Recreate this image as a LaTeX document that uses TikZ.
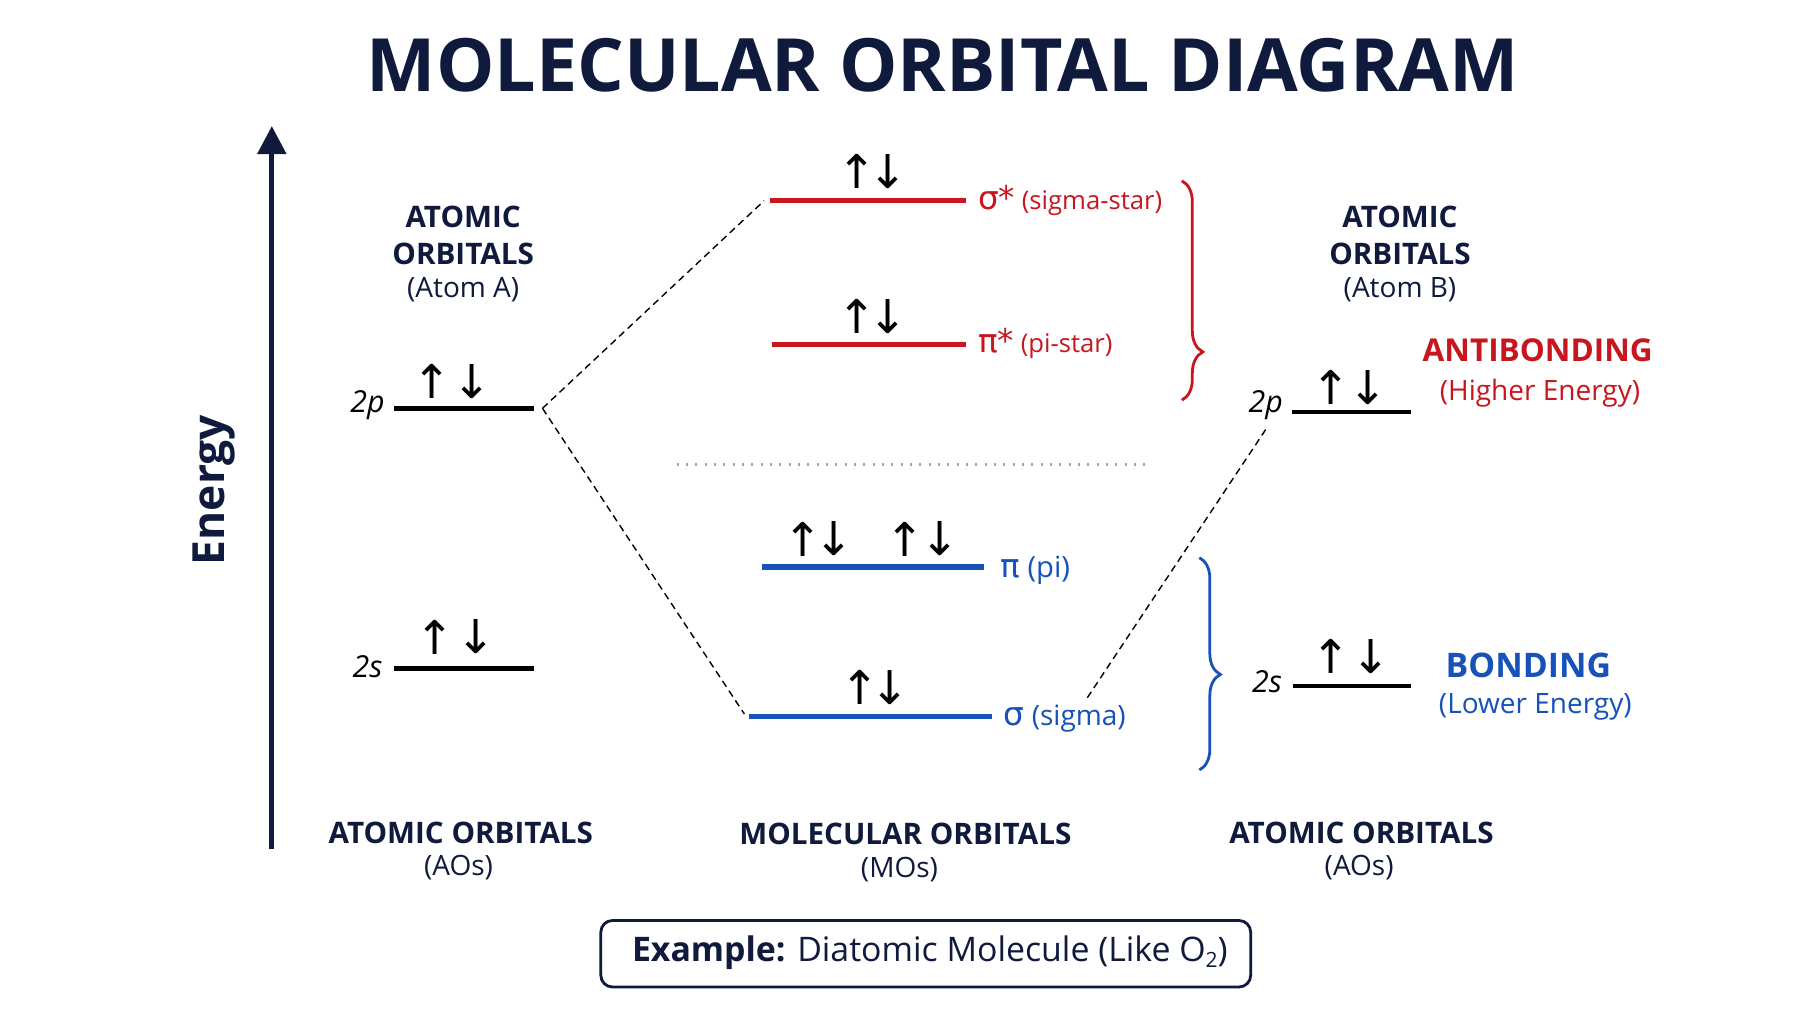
\documentclass[tikz,border=0pt]{standalone}
\usepackage{fontspec}
\setmainfont{Open Sans}
\newfontfamily\dv{DejaVu Sans}
\usetikzlibrary{arrows.meta,decorations.pathreplacing}
\definecolor{navy}{HTML}{0F1A3C}
\definecolor{mred}{HTML}{C8161E}
\definecolor{mblue}{HTML}{1652B8}
\begin{document}
\begin{tikzpicture}[x=0.5pt,y=-0.5pt,
  lev/.style={line width=2pt},
  hd/.style={font=\fontsize{12.7}{14}\selectfont\bfseries,text=navy,inner sep=0},
  sub/.style={font=\fontsize{12}{13}\selectfont,text=navy,inner sep=0},
  el/.style={font=\dv\fontsize{20}{20}\selectfont,inner sep=0},
  ol/.style={font=\fontsize{13}{14}\selectfont\itshape,inner sep=0},
  dsh/.style={line width=0.6pt,dash pattern=on 3pt off 2pt}]
\fill[white] (0,0) rectangle (1560,878);
\useasboundingbox (0,0) rectangle (1560,878);
\node[font=\fontsize{31.5}{34}\selectfont\bfseries,text=navy] (title) at (808,56) {MOLECULAR ORBITAL DIAGRAM};
% energy axis
\coordinate (ax0) at (233,728); \coordinate (ax1) at (233,108);
\draw[navy,line width=2.2pt,-{Triangle[length=12pt,width=12pt]}] (ax0) -- (ax1);
\node[rotate=90,font=\fontsize{19}{20}\selectfont\bfseries,text=navy] (en) at (183,420) {Energy};
% headers
\node[hd] (la1) at (397,186) {ATOMIC};
\node[hd] (la2) at (397,218) {ORBITALS};
\node[sub] (la3) at (397,248) {(Atom A)};
\node[hd] (ra1) at (1200,186) {ATOMIC};
\node[hd] (ra2) at (1200,218) {ORBITALS};
\node[sub] (ra3) at (1200,248) {(Atom B)};
% left levels
\draw[lev] (338,350) coordinate (l2pa) -- (458,350) coordinate (l2pb);
\node[ol] (l2p) at (315,347) {2p};
\node[el] at (370,327) {↑}; \node[el] at (405,327) {↓};
\draw[lev] (338,573) coordinate (l2sa) -- (458,573) coordinate (l2sb);
\node[ol] (l2s) at (315,571) {2s};
\node[el] at (373,546) {↑}; \node[el] at (408,546) {↓};
% right levels
\draw[lev] (1107,353) coordinate (r2pa) -- (1209,353) coordinate (r2pb);
\node[ol] (r2p) at (1085,347) {2p};
\node[el] at (1141,332) {↑}; \node[el] at (1173,332) {↓};
\draw[lev] (1108,588) coordinate (r2sa) -- (1209,588) coordinate (r2sb);
\node[ol] (r2s) at (1086,584) {2s};
\node[el] at (1141,563) {↑}; \node[el] at (1175,563) {↓};
% MOs
\draw[lev,mred,line width=2.2pt] (660,172) coordinate (ssa) -- (828,172) coordinate (ssb);
\node[el] at (735,147) {↑}; \node[el] at (761,147) {↓};
\node[anchor=west,text=mred,font=\fontsize{11}{12}\selectfont,inner sep=0] (ssl) at (838,172) {{\dv\fontsize{14}{14}\selectfont σ*} (sigma-star)};
\draw[lev,mred,line width=2.2pt] (662,295) coordinate (ppa) -- (828,295) coordinate (ppb);
\node[el] at (735,271) {↑}; \node[el] at (761,271) {↓};
\node[anchor=west,text=mred,font=\fontsize{11}{12}\selectfont,inner sep=0] (ppl) at (838,294) {{\dv\fontsize{14}{14}\selectfont π*} (pi-star)};
\draw[gray!70,line width=1.3pt,dash pattern=on 0.8pt off 3.2pt] (580,398) coordinate (dta) -- (985,398) coordinate (dtb);
\draw[lev,mblue,line width=2.2pt] (653,486) coordinate (pa) -- (843,486) coordinate (pb);
\node[el] at (688,462) {↑}; \node[el] at (715,462) {↓};
\node[el] at (776,462) {↑}; \node[el] at (806,462) {↓};
\node[anchor=west,text=mblue,font=\fontsize{12.5}{14}\selectfont,inner sep=0] (pl) at (857,489) {{\dv\fontsize{14}{14}\selectfont π} (pi)};
\draw[lev,mblue,line width=2.2pt] (642,614) coordinate (sa) -- (850,614) coordinate (sb);
\node[el] at (737,589) {↑}; \node[el] at (763,589) {↓};
\node[anchor=west,text=mblue,font=\fontsize{12}{14}\selectfont,inner sep=0] (sl) at (860,616) {{\dv\fontsize{14}{14}\selectfont σ} (sigma)};
% dashed connectors
\coordinate (dl) at (465,350); \coordinate (dss) at (655,172);
\coordinate (ds) at (638,612); \coordinate (dr1) at (932,598); \coordinate (dr2) at (1087,365);
\draw[dsh] (dl) -- (dss);
\draw[dsh] (dl) -- (ds);
\draw[dsh] (dr1) -- (dr2);
% braces
\coordinate (b1a) at (1013,155); \coordinate (b1b) at (1013,343);
\draw[mred,line width=1.2pt,decorate,decoration={brace,amplitude=9pt,aspect=0.78}] (b1a) -- (b1b);
\coordinate (b2a) at (1028,478); \coordinate (b2b) at (1028,660);
\draw[mblue,line width=1.2pt,decorate,decoration={brace,amplitude=9pt,aspect=0.55}] (b2a) -- (b2b);
\node[text=mred,font=\fontsize{13.5}{15}\selectfont\bfseries,inner sep=0] (ab) at (1318,300) {ANTIBONDING};
\node[text=mred,font=\fontsize{12}{14}\selectfont,inner sep=0] (ab2) at (1320,337) {(Higher Energy)};
\node[text=mblue,font=\fontsize{14.5}{16}\selectfont\bfseries,inner sep=0] (bo) at (1310,570) {BONDING};
\node[text=mblue,font=\fontsize{12}{14}\selectfont,inner sep=0] (bo2) at (1316,606) {(Lower Energy)};
% bottom labels
\node[hd] (b1) at (395,714) {ATOMIC ORBITALS};
\node[sub] (b1s) at (393,744) {(AOs)};
\node[hd] (b2) at (776,715) {MOLECULAR ORBITALS};
\node[sub] (b2s) at (771,745) {(MOs)};
\node[hd] (b3) at (1167,714) {ATOMIC ORBITALS};
\node[sub] (b3s) at (1165,744) {(AOs)};
\draw[navy,line width=1.2pt,rounded corners=5pt] (515,789) rectangle (1072,846);
\node[text=navy,font=\fontsize{14.5}{16}\selectfont,inner sep=0] (ex) at (797,817) {\textbf{Example:} Diatomic Molecule (Like O\raisebox{-2.5pt}{\fontsize{9}{9}\selectfont 2})};
\end{tikzpicture}
\end{document}
